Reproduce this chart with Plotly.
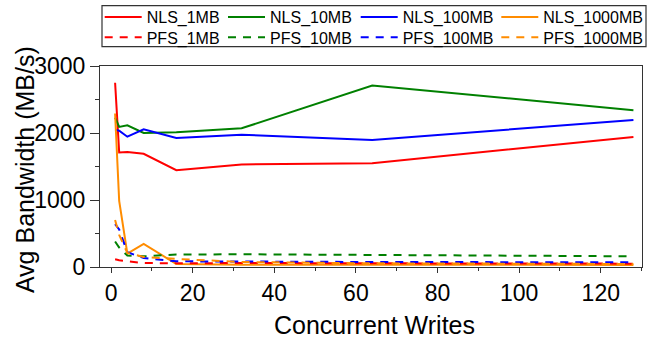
import plotly.graph_objects as go

x_writes = [1, 2, 4, 8, 16, 32, 64, 128]

NLS_1MB = [2750, 1710, 1715, 1690, 1445, 1530, 1550, 1940]
NLS_10MB = [2230, 2090, 2115, 2000, 2010, 2070, 2710, 2340]
NLS_100MB = [2050, 2035, 1945, 2055, 1925, 1975, 1895, 2195]
NLS_1000MB = [2290, 985, 200, 345, 45, 35, 35, 30]
PFS_1MB = [115, 100, 85, 60, 55, 60, 55, 50]
PFS_10MB = [380, 290, 170, 160, 185, 190, 180, 160]
PFS_100MB = [640, 560, 220, 135, 85, 80, 75, 70]
PFS_1000MB = [700, 480, 210, 150, 120, 75, 55, 45]

x_title = "Concurrent Writes"
y_title = "Avg Bandwidth (MB/s)"

RED, GREEN, BLUE, ORANGE = "#ff0000", "#008000", "#0000ff", "#ff8c00"
DASH = "8px,7px"

# (name, values, colour, dash, legend column, legend row)
series = [
    ("NLS_1MB", NLS_1MB, RED, "solid", 0, 0),
    ("NLS_10MB", NLS_10MB, GREEN, "solid", 1, 0),
    ("NLS_100MB", NLS_100MB, BLUE, "solid", 2, 0),
    ("NLS_1000MB", NLS_1000MB, ORANGE, "solid", 3, 0),
    ("PFS_1MB", PFS_1MB, RED, DASH, 0, 1),
    ("PFS_10MB", PFS_10MB, GREEN, DASH, 1, 1),
    ("PFS_100MB", PFS_100MB, BLUE, DASH, 2, 1),
    ("PFS_1000MB", PFS_1000MB, ORANGE, DASH, 3, 1),
]

font = "Liberation Sans, Arial, sans-serif"
W, H = 649, 339
ML, MR, MT, MB = 100, 7, 66, 72
PW, PH = W - ML - MR, H - MT - MB


def px_x(p):
    return (p - ML) / PW


def px_y(p):
    return (H - MB - p) / PH


leg_lefts = [99.7, 223, 355.7, 496.3]
leg_tops = [0.0, 20.4]
leg_common = dict(orientation="v", yanchor="top", xanchor="left",
                  font=dict(size=16, family=font, color="black"),
                  borderwidth=0, bgcolor="rgba(0,0,0,0)", itemwidth=37,
                  tracegroupgap=0)

fig = go.Figure()
layout_legends = {}
for i, (name, vals, color, dash, col, row) in enumerate(series):
    key = "legend" if i == 0 else f"legend{i + 1}"
    fig.add_trace(go.Scatter(x=x_writes, y=vals, name=name, mode="lines", legend=key,
                             line=dict(color=color, width=2, dash=dash)))
    layout_legends[key] = dict(leg_common, x=px_x(leg_lefts[col]), y=px_y(leg_tops[row]))

fig.update_layout(
    width=W, height=H,
    margin=dict(l=ML, r=MR, t=MT, b=MB, autoexpand=False),
    plot_bgcolor="white", paper_bgcolor="white",
    font=dict(family=font, color="black"),
    showlegend=True,
    **layout_legends,
    shapes=[dict(type="rect", xref="paper", yref="paper",
                 x0=px_x(102), x1=px_x(646), y0=px_y(46.7), y1=px_y(5.7),
                 line=dict(color="#333", width=1.2), fillcolor="rgba(0,0,0,0)",
                 layer="above")],
    annotations=[
        dict(text=x_title, xref="paper", yref="paper", x=px_x(374.5), y=px_y(324.6),
             xanchor="center", yanchor="middle", showarrow=False,
             font=dict(size=25, family=font, color="black")),
        dict(text=y_title, xref="paper", yref="paper", x=px_x(24.6), y=px_y(169.5),
             xanchor="center", yanchor="middle", showarrow=False, textangle=-90,
             font=dict(size=25, family=font, color="black")),
    ],
    xaxis=dict(range=[-2.7, 130.1], tickmode="linear", tick0=0, dtick=20,
               ticks="outside", ticklen=5, tickcolor="#333",
               minor=dict(dtick=10, tick0=0, ticks="outside", ticklen=3, tickcolor="#333"),
               showgrid=False, zeroline=False, showline=True, linecolor="#333", mirror=True,
               tickfont=dict(size=23, family=font)),
    yaxis=dict(range=[0, 3000], tickmode="linear", tick0=0, dtick=1000,
               ticks="outside", ticklen=9, tickcolor="#333",
               minor=dict(dtick=500, tick0=0, ticks="outside", ticklen=4, tickcolor="#333"),
               showgrid=False, zeroline=False, showline=True, linecolor="#333", mirror=True,
               tickfont=dict(size=23, family=font)),
)

fig.write_html("out.html", config={"displayModeBar": False},
               post_script="document.body.style.margin='0';document.body.style.padding='0';")
